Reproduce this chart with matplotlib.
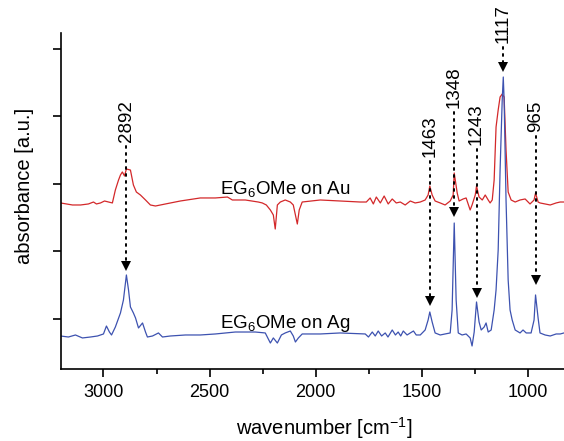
import matplotlib
matplotlib.use("Agg")
import matplotlib.pyplot as plt
from matplotlib.ticker import MultipleLocator, NullFormatter

plt.rcParams['font.family'] = ['Liberation Sans', 'DejaVu Sans']
plt.rcParams['mathtext.fontset'] = 'custom'
plt.rcParams['mathtext.rm'] = 'Liberation Sans'
plt.rcParams['mathtext.it'] = 'Liberation Sans'

# ---- data (wavenumber in cm^-1, absorbance in a.u. with offsets) ----
ag_wn = [3202, 3165, 3132, 3099, 3061, 3028, 3000, 2986, 2972, 2962, 2944, 2920, 2906,
         2892, 2882, 2873, 2859, 2849, 2835, 2816, 2802, 2793, 2769, 2741, 2722, 2685,
         2614, 2544, 2473, 2379, 2285, 2238, 2214, 2200, 2181, 2162, 2144, 2120, 2106,
         2096, 2082, 2064, 1979, 1885, 1767, 1752, 1734, 1720, 1706, 1690, 1673, 1660,
         1640, 1625, 1612, 1600, 1588, 1570, 1555, 1540,
         1527, 1508, 1485, 1471, 1463, 1452, 1438, 1414, 1391, 1367, 1358, 1348, 1339,
         1329, 1311, 1292, 1273, 1264, 1254, 1243, 1231, 1221, 1207, 1198, 1188, 1174,
         1160, 1151, 1141, 1132, 1122, 1117, 1113, 1104, 1094, 1085, 1075, 1061, 1038,
         1024, 1009, 986, 972, 965, 953, 944, 920, 896, 868, 849, 831]
ag_abs = [0.748, 0.733, 0.763, 0.719, 0.733, 0.748, 0.778, 0.896, 0.807, 0.763, 0.881,
          1.089, 1.281, 1.652, 1.430, 1.178, 1.089, 1.015, 0.867, 0.941, 0.807, 0.733,
          0.748, 0.793, 0.733, 0.748, 0.763, 0.763, 0.778, 0.807, 0.807, 0.793, 0.644,
          0.719, 0.644, 0.763, 0.793, 0.822, 0.748, 0.659, 0.719, 0.778, 0.778, 0.793,
          0.778, 0.733, 0.807, 0.748, 0.822, 0.748, 0.793, 0.733, 0.837, 0.763, 0.807,
          0.748, 0.822, 0.763, 0.793, 0.822,
          0.763, 0.763, 0.837,
          0.985, 1.104, 0.956, 0.793, 0.763, 0.778, 0.793, 1.133, 2.422, 1.281, 0.793,
          0.763, 0.778, 0.719, 0.600, 0.807, 1.252, 0.956, 0.837, 0.881, 0.941, 0.807,
          0.837, 1.133, 1.430, 2.022, 3.207, 4.244, 4.585, 4.244, 2.763, 1.578, 1.133,
          0.985, 0.837, 0.793, 0.837, 0.793, 0.793, 0.985, 1.356, 1.015, 0.793, 0.763,
          0.748, 0.778, 0.778, 0.793]

au_wn = [3202, 3174, 3146, 3108, 3071, 3047, 3033, 3014, 2995, 2976, 2958, 2944, 2929,
         2920, 2911, 2901, 2892, 2873, 2859, 2845, 2826, 2802, 2779, 2755, 2708, 2638,
         2544, 2473, 2416, 2393, 2332, 2271, 2252, 2233, 2214, 2200, 2191, 2181, 2167,
         2144, 2120, 2106, 2096, 2087, 2078, 2064, 1979, 1885, 1791, 1762, 1744, 1729,
         1715, 1696, 1678, 1659, 1640, 1621, 1602, 1579, 1555, 1532, 1508, 1485, 1471,
         1463, 1452, 1438, 1414, 1391, 1367, 1353, 1348, 1334, 1325, 1306, 1292, 1273,
         1264, 1249, 1243, 1231, 1216, 1202, 1188, 1179, 1169, 1160, 1151, 1141, 1132,
         1122, 1113, 1104, 1094, 1080, 1061, 1038, 1014, 991, 972, 965, 953, 944, 920,
         896, 868, 849, 831]
au_abs = [2.719, 2.704, 2.689, 2.689, 2.704, 2.733, 2.704, 2.719, 2.748, 2.733, 2.719,
          2.911, 3.059, 3.133, 3.178, 3.119, 3.222, 3.207, 2.985, 2.881, 2.837, 2.763,
          2.689, 2.674, 2.704, 2.748, 2.793, 2.793, 2.807, 2.763, 2.763, 2.733, 2.719,
          2.689, 2.615, 2.541, 2.333, 2.689, 2.733, 2.763, 2.733, 2.689, 2.541, 2.407,
          2.615, 2.733, 2.763, 2.748, 2.733, 2.733, 2.793, 2.704, 2.807, 2.719, 2.822,
          2.704, 2.778, 2.719, 2.733, 2.689, 2.748, 2.719, 2.733, 2.763, 2.837, 2.970,
          2.837, 2.748, 2.719, 2.689, 2.748, 2.837, 3.163, 2.867, 2.748, 2.778, 2.793,
          2.615, 2.689, 2.837, 2.970, 2.807, 2.763, 2.837, 2.763, 2.719, 2.763, 3.059,
          3.844, 4.096, 4.289, 4.333, 4.289, 3.504, 2.881, 2.763, 2.733, 2.763, 2.778,
          2.704, 2.763, 2.867, 2.733, 2.719, 2.704, 2.689, 2.719, 2.733, 2.733]

peak_wn = [2892, 1463, 1348, 1243, 1117, 965]
peak_labels = ['2892', '1463', '1348', '1243', '1117', '965']
arrow_tip = [1.73, 1.21, 2.54, 1.33, 4.69, 1.53]
label_base = [3.62, 3.40, 4.13, 3.58, 5.09, 3.77]

x_ticks = [3000, 2500, 2000, 1500, 1000]
y_ticks = [1, 2, 3, 4, 5]

# ---- figure ----
fig = plt.figure(figsize=(5.64, 4.41), dpi=100)
ax = fig.add_axes([61/564, 1 - 369/441, 1 - 61/564, (369 - 33)/441])

ax.plot(au_wn, au_abs, color='#d3282a', lw=0.9)
ax.plot(ag_wn, ag_abs, color='#3d52b0', lw=0.9)

for wn, lab, tip, base in zip(peak_wn, peak_labels, arrow_tip, label_base):
    ax.plot([wn, wn], [base - 0.06, tip + 0.1], color='black', lw=1.4,
            linestyle=(0, (1, 2.6)), dash_capstyle='round')
    ax.plot([wn], [tip + 0.05], marker='v', color='black', markersize=6.5, mew=0)
    ax.text(wn, base, lab, rotation=90, ha='center', va='bottom', fontsize=13.5)

ax.text(2450, 2.93, 'EG$_6$OMe on Au', fontsize=13.5, ha='left', va='center')
ax.text(2450, 0.93, 'EG$_6$OMe on Ag', fontsize=13.5, ha='left', va='center')

ax.set_xlim(3200, 831)
ax.set_ylim(0.259, 5.237)
ax.set_xticks(x_ticks)
ax.xaxis.set_minor_locator(MultipleLocator(250))
ax.xaxis.set_minor_formatter(NullFormatter())
ax.set_yticks(y_ticks)
ax.set_yticklabels([])

for s in ['top', 'right']:
    ax.spines[s].set_visible(False)
for s in ['left', 'bottom']:
    ax.spines[s].set_linewidth(1.2)

ax.tick_params(axis='x', which='major', direction='out', length=6, width=1.2,
               labelsize=13, pad=5)
ax.tick_params(axis='x', which='minor', direction='out', length=3.5, width=1.2)
ax.tick_params(axis='y', which='major', direction='out', length=6, width=1.2)

fig.text(324/564, 1 - 428/441, 'wavenumber [cm$^{-1}$]', fontsize=14.5,
         ha='center', va='center')
fig.text(25/564, 1 - 186/441, 'absorbance [a.u.]', fontsize=14.5,
         ha='center', va='center', rotation=90)

fig.savefig('out.png', dpi=100)
